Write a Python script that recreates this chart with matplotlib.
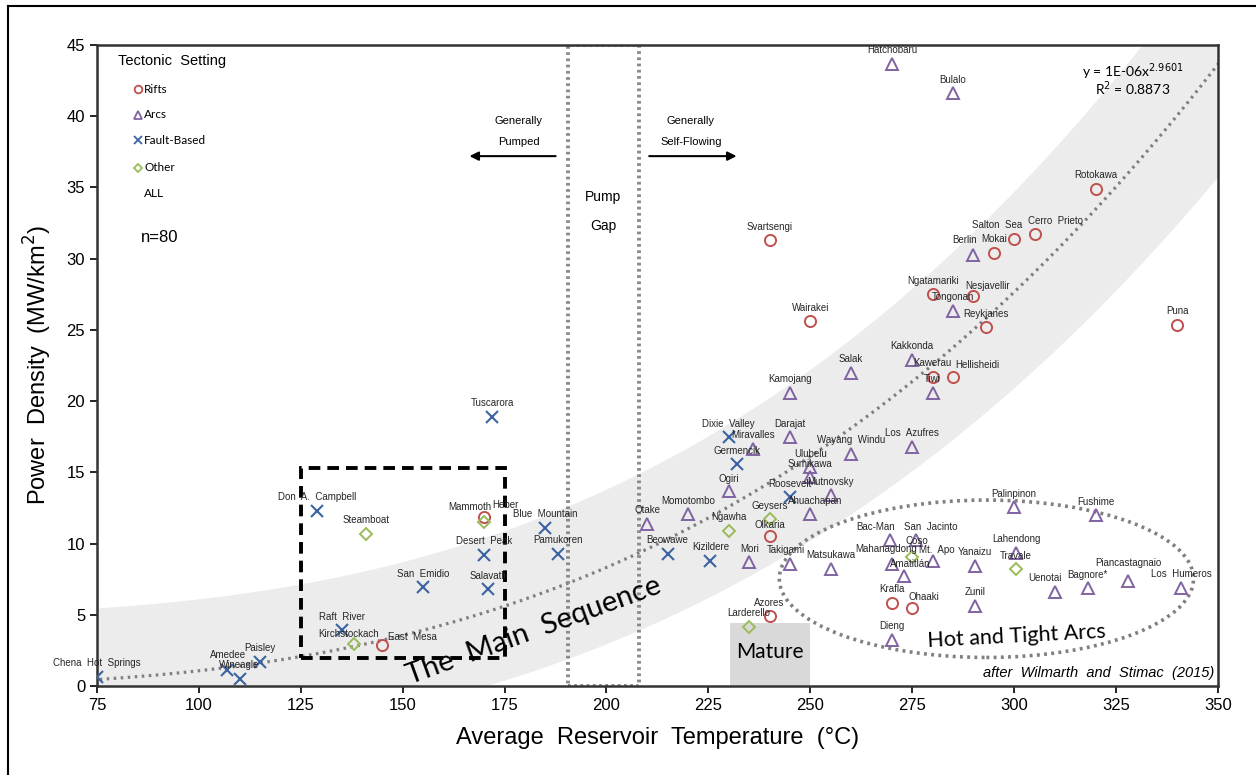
import numpy as np
import matplotlib.pyplot as plt
from matplotlib.patches import Rectangle, Ellipse
from matplotlib.lines import Line2D

# ---- data (temperature degC, power density MW/km2) ----
rift_names = ["East Mesa", "Mammoth", "Olkaria", "Azores", "Svartsengi", "Wairakei",
              "Rotokawa", "Cerro Prieto", "Salton Sea", "Mokai", "Ngatamariki",
              "Nesjavellir", "Reykjanes", "Puna", "Kawerau", "Hellisheidi", "Krafla", "Ohaaki"]
rift_temp = [145, 170, 240, 240, 240, 250, 320, 305, 300, 295, 280, 290, 293, 340, 280, 285, 270, 275]
rift_pd = [2.9, 11.85, 10.5, 4.9, 31.3, 25.6, 34.9, 31.7, 31.35, 30.4, 27.5, 27.4, 25.2,
           25.35, 21.7, 21.7, 5.85, 5.45]

arc_names = ["Otake", "Kamojang", "Miravalles", "Darajat", "Ogiri", "Momotombo", "Mori",
             "Takigami", "Matsukawa", "Ahuachapan", "Mutnovsky", "Ulubelu", "Sumikawa",
             "Wayang Windu", "Salak", "Kakkonda", "Tiwi", "Los Azufres", "Hatchobaru",
             "Bulalo", "Berlin", "Tongonan", "Palinpinon", "Fushime", "Bac-Man",
             "San Jacinto", "Mahanagdong", "Mt. Apo", "Amatitlán", "Yanaizu", "Lahendong",
             "Uenotai", "Bagnore*", "Piancastagnaio", "Los Humeros", "Zunil", "Dieng"]
arc_temp = [210, 245, 236, 245, 230, 220, 235, 245, 255, 250, 255, 250, 250, 260, 260, 275,
            280, 275, 270, 285, 290, 285, 300, 320, 269.5, 276, 270, 280, 273, 290.5, 300.5,
            310, 318, 328, 341, 290.5, 270]
arc_pd = [11.4, 20.6, 16.65, 17.45, 13.7, 12.05, 8.7, 8.55, 8.25, 12.05, 13.4, 15.35, 14.65,
          16.3, 22.0, 22.9, 20.6, 16.8, 43.7, 41.6, 30.25, 26.35, 12.55, 12.0, 10.25, 10.25,
          8.55, 8.8, 7.7, 8.45, 9.35, 6.6, 6.85, 7.4, 6.9, 5.65, 3.25]

fault_names = ["Chena Hot Springs", "Amedee", "Wineagle", "Paisley", "Don A. Campbell",
               "Raft River", "San Emidio", "Desert Peak", "Salavatli", "Tuscarora",
               "Blue Mountain", "Pamukoren", "Beowawe", "Kizildere", "Dixie Valley",
               "Germencik", "Roosevelt"]
fault_temp = [75, 107, 110, 115, 129, 135, 155, 170, 171, 172, 185, 188, 215, 225.5, 230, 232, 245]
fault_pd = [0.65, 1.1, 0.5, 1.7, 12.3, 3.9, 6.95, 9.2, 6.8, 18.9, 11.1, 9.3, 9.3, 8.8,
            17.45, 15.6, 13.25]

other_names = ["Kirchstockach", "Steamboat", "Heber", "Ngawha", "Geysers", "Larderello",
               "Coso", "Travale"]
other_temp = [138, 141, 170, 230, 240, 235, 275, 300.5]
other_pd = [2.95, 10.7, 11.55, 10.9, 11.7, 4.15, 9.05, 8.2]

# power-law trend (as drawn)
trend_coef = 1.286e-6
trend_exp = 2.9601

# label offsets in pixels (label centre relative to marker), default is straight above
label_shift = {
    "Amedee": (1, 15.7), "Kirchstockach": (-5, 10), "East Mesa": (30, 8),
    "Mammoth": (-14, 10), "Heber": (21, 17), "Takigami": (-4, 14),
    "Ahuachapan": (5, 13.6), "Bac-Man": (-14.5, 12.7), "San Jacinto": (14.3, 12.7),
    "Coso": (5, 16.6), "Mahanagdong": (-5.4, 15.6), "Mt. Apo": (4, 10.7),
    "Amatitlán": (6, 12), "Uenotai": (-10, 14.4), "Piancastagnaio": (0, 18),
    "Ohaaki": (11.4, 11), "Cerro Prieto": (21, 13.3), "Salton Sea": (-17, 14.3),
    "Berlin": (-8.4, 15), "Nesjavellir": (14.3, 9.3), "Hellisheidi": (24, 11.7),
    "Olkaria": (0, 11.7), "Ogiri": (0, 12.3), "Germencik": (0, 12.6),
}

red = '#C0504D'
purple = '#8064A2'
blue = '#3C64A0'
green = '#9BBB59'
arial = ['Liberation Sans', 'DejaVu Sans']
calibri = ['Lato', 'DejaVu Sans']

fig = plt.figure(figsize=(12.56, 7.75), dpi=100)
ax = fig.add_axes([0.0772, 0.1148, 0.8925, 0.8271])
ax.set_xlim(75, 350)
ax.set_ylim(0, 45)

# shaded band of constant width around the trend curve
tt = np.linspace(55, 400, 700)
yy = trend_coef * tt ** trend_exp
pts = ax.transData.transform(np.column_stack([tt, yy]))
d = np.gradient(pts, axis=0)
nrm = np.column_stack([-d[:, 1], d[:, 0]])
nrm /= np.linalg.norm(nrm, axis=1)[:, None]
inv = ax.transData.inverted()
up = inv.transform(pts + 71 * nrm)
lo = inv.transform(pts - 71 * nrm)
poly = np.vstack([up, lo[::-1]])
ax.fill(poly[:, 0], poly[:, 1], color='#ececec', lw=0, zorder=0)
ax.plot(tt, yy, ls=(0, (0.8, 1.4)), color='#7f7f7f', lw=2.3, zorder=1)

# boxes / regions
ax.add_patch(Rectangle((190.5, 0), 17.5, 45, fill=False, ls=(0, (0.7, 0.9)), lw=2.8,
                       ec='#8a8a8a', zorder=2))
ax.add_patch(Rectangle((230.3, 0), 19.7, 4.4, color='#d9d9d9', lw=0, zorder=1))
ax.add_patch(Rectangle((125, 2), 50, 13.3, fill=False, ls=(0, (3, 1.8)), lw=2.8,
                       ec='black', zorder=3))
ax.add_patch(Ellipse((293.2, 7.53), 101.6, 11.05, fill=False, ls=(0, (0.8, 1.2)), lw=2.6,
                     ec='#808080', zorder=2))


def put(names, temps, dens, marker, color, ms, mew):
    ax.plot(temps, dens, ls='none', marker=marker, ms=ms, mfc='none', mec=color,
            mew=mew, zorder=4)
    for nm, t, p in zip(names, temps, dens):
        dx, dy = label_shift.get(nm, (0, 13.5))
        ax.annotate(nm.replace(' ', '  '), (t, p), xytext=(dx * 0.72, dy * 0.72),
                    textcoords='offset points', ha='center', va='center', fontsize=7,
                    family=arial, color='#262626', zorder=5)


put(rift_names, rift_temp, rift_pd, 'o', red, 8, 1.4)
put(arc_names, arc_temp, arc_pd, '^', purple, 9, 1.4)
put(fault_names, fault_temp, fault_pd, 'x', blue, 8, 1.5)
put(other_names, other_temp, other_pd, 'D', green, 6.5, 1.4)

# legend drawn by hand
ax.text(80.2, 43.9, 'Tectonic  Setting', fontsize=10.5, family=arial, va='center')
leg = [('o', red, 'Rifts', 41.9), ('^', purple, 'Arcs', 40.1),
       ('x', blue, 'Fault-Based', 38.3), ('D', green, 'Other', 36.4)]
for mk, col, txt, yv in leg:
    ax.plot([85.1], [yv], marker=mk, ms=5.5 if mk != 'D' else 4.5, mfc='none', mec=col, mew=1.3)
    ax.text(86.6, yv, txt, fontsize=8.5, family=calibri, va='center')
ax.text(86.6, 34.55, 'ALL', fontsize=8.5, family=calibri, va='center')
ax.text(85.8, 31.5, 'n=80', fontsize=12, family=arial, va='center')

# annotations
ax.annotate('', xy=(165.7, 37.2), xytext=(188.2, 37.2),
            arrowprops=dict(arrowstyle='-|>', color='black', lw=1.5, mutation_scale=13))
ax.annotate('', xy=(232.6, 37.2), xytext=(209.8, 37.2),
            arrowprops=dict(arrowstyle='-|>', color='black', lw=1.5, mutation_scale=13))
ax.text(178.4, 39.7, 'Generally', fontsize=8, family=arial, ha='center', va='center')
ax.text(178.4, 38.2, 'Pumped', fontsize=8, family=arial, ha='center', va='center')
ax.text(220.7, 39.7, 'Generally', fontsize=8, family=arial, ha='center', va='center')
ax.text(220.7, 38.2, 'Self-Flowing', fontsize=8, family=arial, ha='center', va='center')
ax.text(199.2, 34.3, 'Pump', fontsize=10, family=arial, ha='center', va='center')
ax.text(199.2, 32.3, 'Gap', fontsize=10, family=arial, ha='center', va='center')

ax.text(329.2, 43.1, 'y = 1E-06x$^{2.9601}$', fontsize=10, family=calibri, ha='center', va='center')
ax.text(329.0, 41.9, 'R$^{2}$ = 0.8873', fontsize=10, family=calibri, ha='center', va='center')

ax.text(182.2, 3.9, 'The  Main  Sequence', fontsize=21, family=calibri, rotation=20,
        ha='center', va='center', rotation_mode='anchor', zorder=3)
ax.text(240, 2.4, 'Mature', fontsize=15, family=calibri, ha='center', va='center', zorder=2)
ax.text(300.5, 3.5, 'Hot and Tight Arcs', fontsize=15.5, family=calibri, rotation=3,
        ha='center', va='center', rotation_mode='anchor')
ax.text(349, 0.9, 'after  Wilmarth  and  Stimac  (2015)', fontsize=10.5, family=arial,
        style='italic', ha='right', va='center')

# axes styling
ax.set_xticks(np.arange(75, 351, 25))
ax.set_yticks(np.arange(0, 46, 5))
ax.tick_params(direction='out', length=5, width=1.2, labelsize=12)
for lab in ax.get_xticklabels() + ax.get_yticklabels():
    lab.set_family(arial)
for s in ax.spines.values():
    s.set_linewidth(1.8)
    s.set_color('#333333')
ax.set_xlabel('Average  Reservoir  Temperature  (°C)', fontsize=17, family=arial, labelpad=10)
ax.set_ylabel('Power  Density  (MW/km$^2$)', fontsize=17, family=arial, labelpad=9)

# outer frame (cropped at right and bottom in the original)
fig.add_artist(Line2D([8 / 1256, 8 / 1256], [0, 1 - 6 / 775], transform=fig.transFigure,
                      color='black', lw=1.5))
fig.add_artist(Line2D([8 / 1256, 1], [1 - 6 / 775, 1 - 6 / 775], transform=fig.transFigure,
                      color='black', lw=1.5))

fig.savefig('out.png', dpi=100)
